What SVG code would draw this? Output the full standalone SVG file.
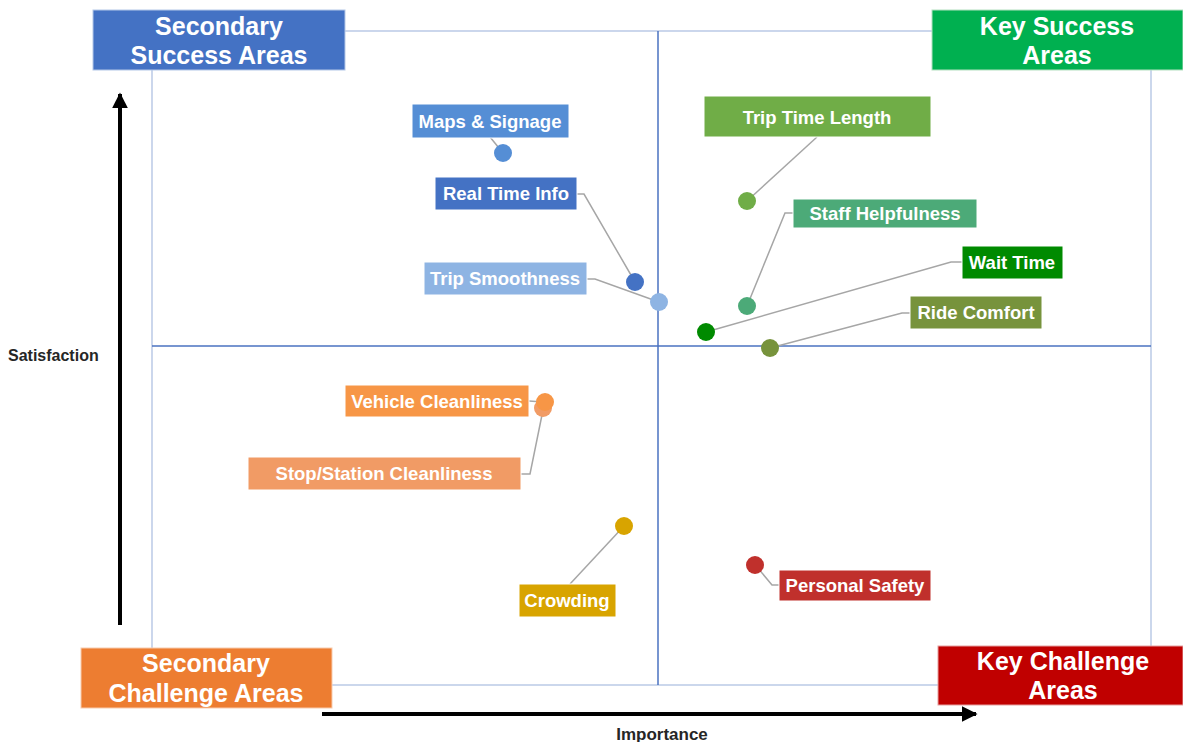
<svg xmlns="http://www.w3.org/2000/svg" width="1183" height="742" viewBox="0 0 1183 742">
<defs>
<style>
.corner{font-family:"Liberation Sans",Arial,sans-serif;font-weight:bold;font-size:25px;fill:#fff;text-anchor:middle}
.lbl{font-family:"Liberation Sans",Arial,sans-serif;font-weight:bold;font-size:18.5px;fill:#fff;text-anchor:middle}
.axis{font-family:"Liberation Sans",Arial,sans-serif;font-weight:bold;font-size:16px;fill:#262626}
.lead{fill:none;stroke:#a6a6a6;stroke-width:1.5}
.box{stroke:#ffffff;stroke-width:1}
</style>
<marker id="ah" viewBox="0 0 10 10" refX="9" refY="5" markerWidth="4" markerHeight="4" orient="auto-start-reverse" markerUnits="strokeWidth">
<path d="M0,0 L10,5 L0,10 z" fill="#000"/>
</marker>
</defs>
<rect width="1183" height="742" fill="#fff"/>
<g id="grid">
<rect x="152" y="31" width="999" height="654" fill="none" stroke="#a9bce0" stroke-width="1.2"/>
<line x1="658" y1="31" x2="658" y2="685" stroke="#4a72c0" stroke-width="1.5"/>
<line x1="152" y1="346" x2="1151" y2="346" stroke="#4a72c0" stroke-width="1.5"/>
</g>
<g id="axes">
<line x1="120" y1="625" x2="120" y2="94" stroke="#000" stroke-width="4" marker-end="url(#ah)"/>
<line x1="322" y1="714" x2="976" y2="714" stroke="#000" stroke-width="4" marker-end="url(#ah)"/>
<text class="axis" x="8" y="361">Satisfaction</text>
<text class="axis" x="662" y="740" text-anchor="middle" style="font-size:17px">Importance</text>
</g>
<g id="corner-secondary-success">
<rect x="93" y="10" width="252" height="60" fill="#4472c4" stroke="#b4c7e7"/>
<text class="corner" x="219" y="35">Secondary</text>
<text class="corner" x="219" y="64">Success Areas</text>
</g>
<g id="corner-key-success">
<rect x="932" y="10" width="251" height="60" fill="#00b050" stroke="#b4e0c0"/>
<text class="corner" x="1057" y="35">Key Success</text>
<text class="corner" x="1057" y="64">Areas</text>
</g>
<g id="corner-secondary-challenge">
<rect x="81" y="648" width="251" height="60" fill="#ed7d31" stroke="#f8cbad"/>
<text class="corner" x="206" y="672">Secondary</text>
<text class="corner" x="206" y="702">Challenge Areas</text>
</g>
<g id="corner-key-challenge">
<rect x="938" y="646" width="245" height="59" fill="#c00000" stroke="#e6a0a0"/>
<text class="corner" x="1063" y="670">Key Challenge</text>
<text class="corner" x="1063" y="699">Areas</text>
</g>
<g id="connectors">
<polyline class="lead" points="490,137 503,153"/>
<polyline class="lead" points="577,194 584,194 635,282"/>
<polyline class="lead" points="587,279 595,279 659,302"/>
<polyline class="lead" points="817,137 747,201"/>
<polyline class="lead" points="793,213 785,213 747,306"/>
<polyline class="lead" points="962,262 951,262 706,332"/>
<polyline class="lead" points="910,313 902,313 770,348"/>
<polyline class="lead" points="529,401 543,402"/>
<polyline class="lead" points="521,474 530,474 543,410"/>
<polyline class="lead" points="570,584 624,526"/>
<polyline class="lead" points="779,585 772,585 757,567"/>
</g>
<g id="maps-signage">
<circle cx="503" cy="153" r="9" fill="#558ed5"/>
<rect class="box" x="412" y="104" width="157" height="34" fill="#558ed5"/>
<text class="lbl" x="490" y="128">Maps &amp; Signage</text>
</g>
<g id="real-time-info">
<circle cx="635" cy="282" r="9" fill="#4472c4"/>
<rect class="box" x="435" y="177" width="142" height="33" fill="#4472c4"/>
<text class="lbl" x="506" y="200">Real Time Info</text>
</g>
<g id="trip-smoothness">
<circle cx="659" cy="302" r="9" fill="#8eb4e3"/>
<rect class="box" x="424" y="262" width="163" height="33" fill="#8eb4e3"/>
<text class="lbl" x="505" y="285">Trip Smoothness</text>
</g>
<g id="trip-time-length">
<circle cx="747" cy="201" r="9" fill="#70ad47"/>
<rect class="box" x="704" y="96" width="227" height="41" fill="#70ad47"/>
<text class="lbl" x="817" y="124">Trip Time Length</text>
</g>
<g id="staff-helpfulness">
<circle cx="747" cy="306" r="9" fill="#4caa78"/>
<rect class="box" x="793" y="199" width="184" height="29" fill="#4caa78"/>
<text class="lbl" x="885" y="220">Staff Helpfulness</text>
</g>
<g id="wait-time">
<circle cx="706" cy="332" r="9" fill="#008a00"/>
<rect class="box" x="962" y="246" width="101" height="33" fill="#008a00"/>
<text class="lbl" x="1012" y="269">Wait Time</text>
</g>
<g id="ride-comfort">
<circle cx="770" cy="348" r="9" fill="#77933c"/>
<rect class="box" x="910" y="296" width="132" height="33" fill="#77933c"/>
<text class="lbl" x="976" y="319">Ride Comfort</text>
</g>
<g id="stop-station-cleanliness">
<circle cx="543" cy="408" r="9" fill="#f19b65"/>
<rect class="box" x="248" y="457" width="273" height="33" fill="#f19b65"/>
<text class="lbl" x="384" y="480">Stop/Station Cleanliness</text>
</g>
<g id="vehicle-cleanliness">
<circle cx="545" cy="402" r="9" fill="#f79646"/>
<rect class="box" x="345" y="385" width="184" height="32" fill="#f79646"/>
<text class="lbl" x="437" y="408">Vehicle Cleanliness</text>
</g>
<g id="crowding">
<circle cx="624" cy="526" r="9" fill="#d8a400"/>
<rect class="box" x="519" y="584" width="97" height="33" fill="#d8a400"/>
<text class="lbl" x="567" y="607">Crowding</text>
</g>
<g id="personal-safety">
<circle cx="755" cy="565" r="9" fill="#c0302c"/>
<rect class="box" x="779" y="570" width="152" height="31" fill="#c0302c"/>
<text class="lbl" x="855" y="592">Personal Safety</text>
</g>
</svg>
